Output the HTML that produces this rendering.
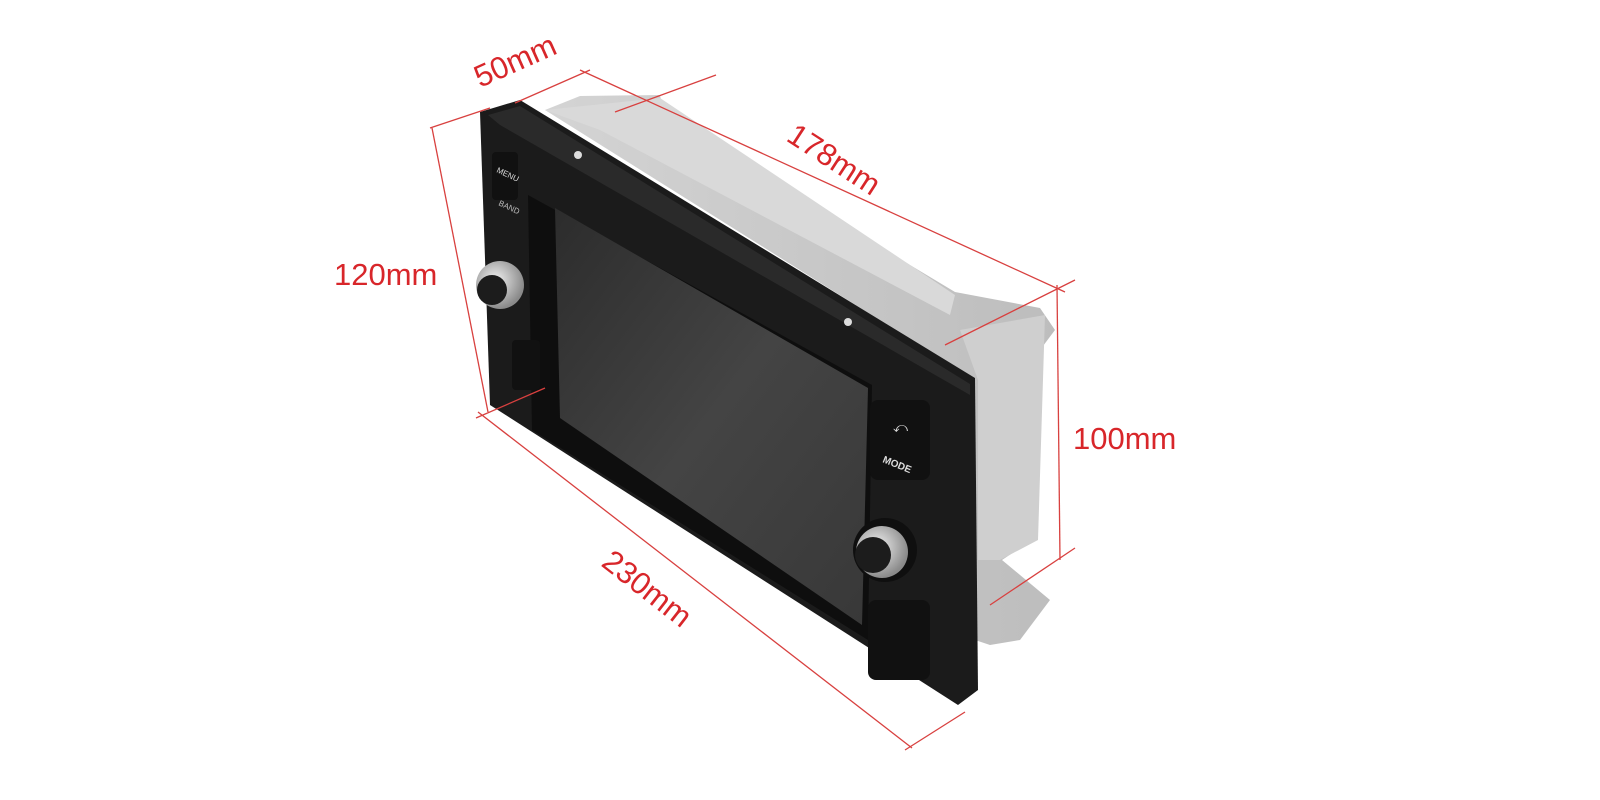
<!DOCTYPE html>
<html><head><meta charset="utf-8"><style>
html,body{margin:0;padding:0;background:#fff;width:1600px;height:800px;overflow:hidden}
svg{display:block}
text{font-family:"Liberation Sans",sans-serif}
</style></head><body>
<svg width="1600" height="800" viewBox="0 0 1600 800">
<defs>
<linearGradient id="scr" x1="0" y1="0" x2="1" y2="1">
<stop offset="0" stop-color="#2c2c2c"/><stop offset="0.5" stop-color="#444"/><stop offset="1" stop-color="#383838"/>
</linearGradient>
<linearGradient id="met" x1="0" y1="0" x2="1" y2="0">
<stop offset="0" stop-color="#d4d4d4"/><stop offset="1" stop-color="#bdbdbd"/>
</linearGradient>
<radialGradient id="knob" cx="0.4" cy="0.4" r="0.6">
<stop offset="0" stop-color="#f2f2f2"/><stop offset="1" stop-color="#8a8a8a"/>
</radialGradient>
</defs>
<!-- metal cage -->
<polygon points="545,110 580,96 660,95 665,118 955,292 1040,308 1055,330 1040,350 1032,540 1002,560 1050,600 1020,640 990,645 975,640 975,380" fill="url(#met)"/>
<polygon points="960,330 1045,315 1038,540 1000,560 978,560 978,380" fill="#cfcfcf"/>
<polygon points="545,110 660,98 955,295 950,315 600,130" fill="#d9d9d9"/>
<!-- bezel -->
<polygon points="480,112 520,100 975,378 978,690 958,705 490,405" fill="#1b1b1b"/>
<polygon points="488,115 520,106 970,384 970,395 500,125" fill="#2a2a2a"/>
<!-- screen -->
<polygon points="528,195 872,385 868,640 532,430" fill="#0e0e0e"/>
<polygon points="555,208 868,388 862,625 560,418" fill="url(#scr)"/>
<!-- buttons -->
<rect x="492" y="152" width="26" height="48" rx="4" fill="#111"/>
<rect x="512" y="340" width="28" height="50" rx="4" fill="#111"/>
<rect x="870" y="400" width="60" height="80" rx="8" fill="#111"/>
<rect x="868" y="600" width="62" height="80" rx="8" fill="#111"/>
<text x="496" y="172" font-size="8" fill="#ddd" transform="rotate(25 496 172)">MENU</text>
<text x="498" y="205" font-size="8" fill="#bbb" transform="rotate(25 498 205)">BAND</text>
<text x="882" y="462" font-size="10" fill="#ddd" font-weight="bold" transform="rotate(22 882 462)">MODE</text>
<text x="893" y="432" font-size="14" fill="#ddd">⤺</text>
<!-- knobs -->
<circle cx="500" cy="285" r="24" fill="url(#knob)"/>
<circle cx="492" cy="290" r="15" fill="#1c1c1c"/>
<circle cx="885" cy="550" r="32" fill="#0f0f0f"/>
<circle cx="882" cy="552" r="26" fill="url(#knob)"/>
<circle cx="873" cy="555" r="18" fill="#1c1c1c"/>
<circle cx="578" cy="155" r="4" fill="#ddd"/>
<circle cx="848" cy="322" r="4" fill="#ddd"/>
<!-- dimension lines -->
<g stroke="#d8403f" stroke-width="1.3" fill="none">
<line x1="515" y1="103" x2="590" y2="70"/>
<line x1="615" y1="112" x2="716" y2="75"/>
<line x1="580" y1="70" x2="1065" y2="292"/>
<line x1="945" y1="345" x2="1075" y2="280"/>
<line x1="430" y1="128" x2="490" y2="108"/>
<line x1="432" y1="128" x2="488" y2="412"/>
<line x1="476" y1="418" x2="545" y2="388"/>
<line x1="478" y1="412" x2="912" y2="748"/>
<line x1="905" y1="750" x2="965" y2="712"/>
<line x1="1057" y1="285" x2="1060" y2="560"/>
<line x1="990" y1="605" x2="1075" y2="548"/>
</g>
<g fill="#d8262a" font-size="31">
<text x="480" y="88" transform="rotate(-24 480 88)">50mm</text>
<text x="785" y="140" transform="rotate(33 785 140)">178mm</text>
<text x="334" y="285">120mm</text>
<text x="1073" y="449">100mm</text>
<text x="600" y="565" transform="rotate(38 600 565)">230mm</text>
</g>
</svg>
</body></html>
